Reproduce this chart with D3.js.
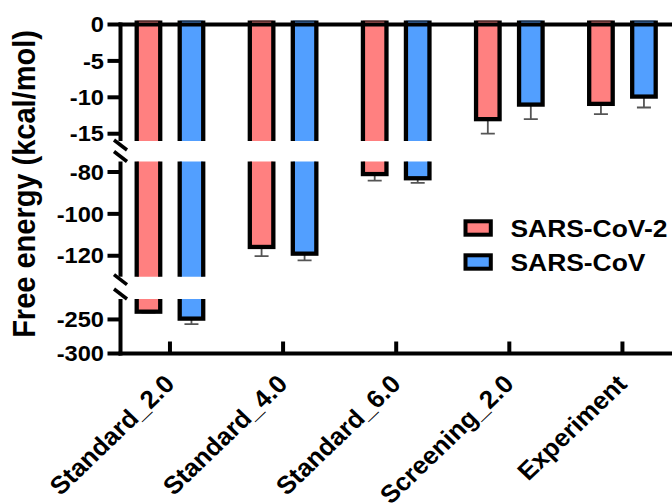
<!DOCTYPE html>
<html>
<head>
<meta charset="utf-8">
<script src="https://cdn.jsdelivr.net/npm/d3@7"></script>
<style>
  body { margin: 0; background: #fff; }
  text { font-family: "Liberation Sans", Arial, sans-serif; font-weight: bold; fill: #000; }
</style>
</head>
<body>
<script>
// Data
const categories = ["Standard_2.0", "Standard_4.0", "Standard_6.0", "Screening_2.0", "Experiment"];
const series = ["SARS-CoV-2", "SARS-CoV"];
const cov2Mean = [-238.6, -115.8, -81.0, -13.0, -10.9];
const cov2Err  = [1.5, 4.4, 3.1, 2.0, 1.4];
const covMean  = [-248.8, -119.0, -83.0, -11.0, -9.9];
const covErr   = [8.0, 3.2, 2.2, 2.0, 1.5];
const colors   = ["#ff8080", "#529fff"];

// Broken y axis: three segments
const segDomains = [[0, -16], [-75, -130], [-220, -300]];
const segTicks   = [[0, -5, -10, -15], [-80, -100, -120], [-250, -300]];

const width = 672, height = 504;
const axisX = 120.5, zeroY = 24.5, baseY = 353.5;
const segRanges = [[zeroY, 141], [161.5, 276.7], [299, baseY]];
const stretch = 1.1; // text in the figure is slightly wide

const svg = d3.select("body").append("svg")
    .attr("width", width)
    .attr("height", height);

const x0 = d3.scaleBand().domain(categories).range([113.4, 679]);
const x1 = d3.scaleBand().domain(series).range([-43, 43])
    .paddingInner(0.453).paddingOuter(0.2265);

const ys = segDomains.map((d, i) => d3.scaleLinear().domain(d).range(segRanges[i]));

const rows = categories.map((c, i) => [
  { cat: c, s: series[0], v: cov2Mean[i], e: cov2Err[i], color: colors[0] },
  { cat: c, s: series[1], v: covMean[i], e: covErr[i], color: colors[1] }
]).flat();

const cx = d => x0(d.cat) + x0.bandwidth() / 2;

// clip paths, one per segment
const defs = svg.append("defs");
segRanges.forEach((r, i) => {
  defs.append("clipPath").attr("id", "seg" + i)
    .append("rect")
    .attr("x", 0).attr("width", width)
    .attr("y", i === 0 ? r[0] - 4 : r[0])
    .attr("height", r[1] - r[0] + (i === 0 ? 4 : 0));
});

ys.forEach((y, i) => {
  const g = svg.append("g").attr("clip-path", `url(#seg${i})`);

  // error bars (only away from zero)
  g.selectAll("line.err").data(rows).enter().append("line")
    .attr("x1", d => cx(d) + x1(d.s) + x1.bandwidth() / 2)
    .attr("x2", d => cx(d) + x1(d.s) + x1.bandwidth() / 2)
    .attr("y1", d => y(d.v))
    .attr("y2", d => y(d.v - d.e))
    .attr("stroke", "#555").attr("stroke-width", 1.8);
  g.selectAll("line.cap").data(rows).enter().append("line")
    .attr("x1", d => cx(d) + x1(d.s) + x1.bandwidth() / 2 - 7)
    .attr("x2", d => cx(d) + x1(d.s) + x1.bandwidth() / 2 + 7)
    .attr("y1", d => y(d.v - d.e))
    .attr("y2", d => y(d.v - d.e))
    .attr("stroke", "#555").attr("stroke-width", 1.8);

  g.selectAll("rect.bar").data(rows).enter().append("rect")
    .attr("x", d => cx(d) + x1(d.s))
    .attr("width", x1.bandwidth())
    .attr("y", y(0) - 5)
    .attr("height", d => y(d.v) - y(0) + 5)
    .attr("fill", d => d.color)
    .attr("stroke", "#000")
    .attr("stroke-width", 4.3);

  // axis segment
  svg.append("line")
    .attr("x1", axisX).attr("x2", axisX)
    .attr("y1", segRanges[i][0] - (i === 0 ? 2 : 0))
    .attr("y2", segRanges[i][1] + (i === 2 ? 2 : 0))
    .attr("stroke", "#000").attr("stroke-width", 4);

  svg.selectAll(null).data(segTicks[i]).enter().append("line")
    .attr("x1", axisX - 13).attr("x2", axisX)
    .attr("y1", d => y(d)).attr("y2", d => y(d))
    .attr("stroke", "#000").attr("stroke-width", 4);

  svg.selectAll(null).data(segTicks[i]).enter().append("text")
    .attr("transform", d => `translate(104,${y(d)}) scale(${stretch},1)`)
    .attr("dy", "0.36em")
    .attr("text-anchor", "end")
    .style("font-size", "21.5px")
    .text(d => d);
});

// break marks
[[segRanges[0][1] + 4, segRanges[1][0] - 5], [segRanges[1][1] + 3, segRanges[2][0] - 5]].flat()
  .forEach(yc => {
    svg.append("line")
      .attr("x1", axisX - 6.5).attr("y1", yc - 5)
      .attr("x2", axisX + 6.5).attr("y2", yc + 5)
      .attr("stroke", "#000").attr("stroke-width", 3.5);
  });

// zero line and x axis
svg.append("line")
  .attr("x1", axisX - 2).attr("x2", width)
  .attr("y1", zeroY).attr("y2", zeroY)
  .attr("stroke", "#000").attr("stroke-width", 4);
svg.append("line")
  .attr("x1", axisX - 2).attr("x2", width)
  .attr("y1", baseY).attr("y2", baseY)
  .attr("stroke", "#000").attr("stroke-width", 4);

svg.selectAll(null).data(categories).enter().append("line")
  .attr("x1", d => x0(d) + x0.bandwidth() / 2)
  .attr("x2", d => x0(d) + x0.bandwidth() / 2)
  .attr("y1", baseY - 12).attr("y2", baseY)
  .attr("stroke", "#000").attr("stroke-width", 4);

svg.selectAll(null).data(categories).enter().append("text")
  .attr("transform", d => `translate(${x0(d) + x0.bandwidth() / 2 + 6},${baseY + 32}) scale(1.04,1) rotate(-45)`)
  .attr("text-anchor", "end")
  .style("font-size", "25px")
  .text(d => d);

// y title
svg.append("text")
  .attr("transform", `translate(35,184) scale(${stretch},1) rotate(-90)`)
  .attr("text-anchor", "middle")
  .style("font-size", "29px")
  .text("Free energy (kcal/mol)");

// legend
const legend = svg.append("g");
series.forEach((s, i) => {
  legend.append("rect")
    .attr("x", 465.5).attr("y", 221.3 + i * 34)
    .attr("width", 25.3).attr("height", 13.4)
    .attr("fill", colors[i])
    .attr("stroke", "#000").attr("stroke-width", 4);
  legend.append("text")
    .attr("transform", `translate(510.5,${237 + i * 34}) scale(${stretch},1)`)
    .style("font-size", "24px")
    .text(s);
});
</script>
</body>
</html>
